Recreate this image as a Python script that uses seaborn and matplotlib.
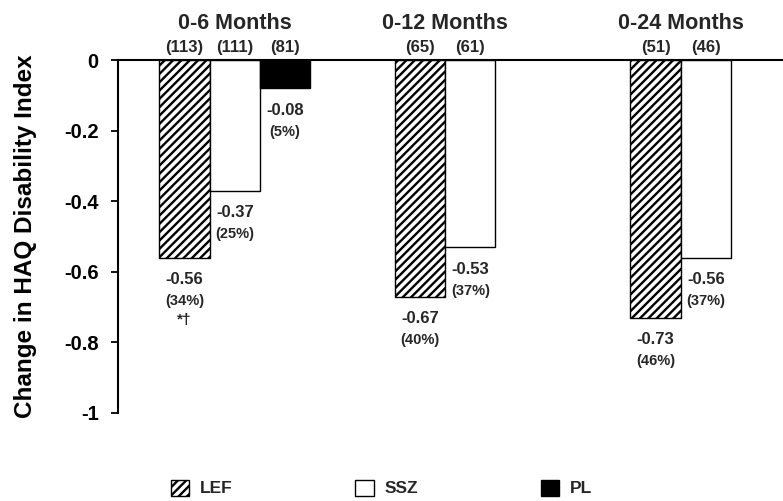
import numpy as np
import pandas as pd
import matplotlib
matplotlib.use("Agg")
import matplotlib.pyplot as plt
import seaborn as sns
from matplotlib.patches import Patch

# ---------------- data ----------------
periods = ["0-6 Months", "0-12 Months", "0-24 Months"]
treatments = ["LEF", "SSZ", "PL"]
lef_change = [-0.56, -0.67, -0.73]
ssz_change = [-0.37, -0.53, -0.56]
pl_change = [-0.08]
lef_pct = ["(34%)", "(40%)", "(46%)"]
ssz_pct = ["(25%)", "(37%)", "(37%)"]
pl_pct = ["(5%)"]
lef_n = ["(113)", "(65)", "(51)"]
ssz_n = ["(111)", "(61)", "(46)"]
pl_n = ["(81)"]
lef_note = ["*\u2020", "", ""]
ssz_note = ["", "", ""]
pl_note = [""]
yticks = [0, -0.2, -0.4, -0.6, -0.8, -1]
ytick_labels = ["0", "-0.2", "-0.4", "-0.6", "-0.8", "-1"]
ylabel = "Change in HAQ Disability Index"

series = {
    "LEF": (lef_change, lef_pct, lef_n, lef_note),
    "SSZ": (ssz_change, ssz_pct, ssz_n, ssz_note),
    "PL": (pl_change, pl_pct, pl_n, pl_note),
}
rows = []
for t in treatments:
    vals, pcts, ns, notes = series[t]
    for i, v in enumerate(vals):
        rows.append({"period": periods[i], "treatment": t, "change": v,
                     "pct": pcts[i], "n": ns[i], "note": notes[i]})
df = pd.DataFrame(rows)

# ---------------- style ----------------
sns.set_theme(style="white")
plt.rcParams["font.family"] = ["Liberation Sans", "DejaVu Sans"]
plt.rcParams["font.weight"] = "bold"
plt.rcParams["hatch.linewidth"] = 1.7
plt.rcParams["hatch.color"] = "black"

W, H = 783, 501
fig = plt.figure(figsize=(W / 100, H / 100), dpi=100)
fig.patch.set_facecolor("white")
ax = fig.add_axes([118 / W, 1 - 413 / H, 1 - 118 / W, (413 - 60) / H])

palette = {"LEF": "white", "SSZ": "white", "PL": "black"}
sns.barplot(data=df, x="period", y="change", hue="treatment",
            order=periods, hue_order=treatments, palette=palette,
            edgecolor="black", linewidth=1.0, width=0.64, gap=0,
            saturation=1, errorbar=None, legend=False, ax=ax)

hatches = {"LEF": "////", "SSZ": "", "PL": ""}
for cont, t in zip(ax.containers, treatments):
    for p in cont.patches:
        p.set_hatch(hatches[t])

ax.set_xlim(-0.496, 2.328)
ax.set_ylim(-1, 0)
ax.set_yticks(yticks)
ax.set_yticklabels(ytick_labels, fontsize=14.5, fontweight="bold")
ax.tick_params(axis="y", left=True, length=5, width=1.3, direction="out",
               pad=9, colors="black")
ax.tick_params(axis="x", bottom=False, labelbottom=False)
ax.set_xlabel("")
ax.set_ylabel(ylabel, fontsize=17.5, fontweight="bold", color="black")
ax.yaxis.set_label_coords((37 - 118) / (W - 118), 0.5)

for s in ["right", "bottom"]:
    ax.spines[s].set_visible(False)
for s in ["top", "left"]:
    ax.spines[s].set_visible(True)
    ax.spines[s].set_color("black")
    ax.spines[s].set_linewidth(1.5)
ax.spines["top"].set_zorder(5)

# ---------------- labels ----------------
group_x = {p: [] for p in periods}
for cont, t in zip(ax.containers, treatments):
    vals, pcts, ns, notes = series[t]
    for i, p in enumerate(cont.patches):
        xc = p.get_x() + p.get_width() / 2
        yb = p.get_y() + p.get_height()
        group_x[periods[i]].append(xc)
        ax.annotate(ns[i], xy=(xc, 0), xytext=(0, 9), textcoords="offset points",
                    ha="center", va="center", fontsize=12, fontweight="bold")
        ax.annotate(f"{vals[i]:.2f}", xy=(xc, yb), xytext=(0, -16),
                    textcoords="offset points", ha="center", va="center",
                    fontsize=12, fontweight="bold")
        ax.annotate(pcts[i], xy=(xc, yb), xytext=(0, -31.5),
                    textcoords="offset points", ha="center", va="center",
                    fontsize=10.5, fontweight="bold")
        if notes[i]:
            ax.annotate(notes[i], xy=(xc, yb), xytext=(0, -45),
                        textcoords="offset points", ha="center", va="center",
                        fontsize=11, fontweight="bold")

for per in periods:
    xs = group_x[per]
    ax.annotate(per, xy=(np.mean(xs), 0), xytext=(0, 26.5),
                textcoords="offset points", ha="center", va="center",
                fontsize=15.5, fontweight="bold", annotation_clip=False)

# ---------------- legend ----------------
handles = [Patch(facecolor=palette[t], edgecolor="black", hatch=hatches[t],
                 linewidth=1.0) for t in treatments]
leg = fig.legend(handles, treatments, loc="center", ncol=3,
                 bbox_to_anchor=(0.487, 1 - 488 / H), frameon=False,
                 fontsize=12.5, handlelength=1.05, handleheight=1.05,
                 handletextpad=0.6, columnspacing=7.1)
for txt in leg.get_texts():
    txt.set_fontweight("bold")

fig.savefig("out.png", dpi=100, facecolor="white")
